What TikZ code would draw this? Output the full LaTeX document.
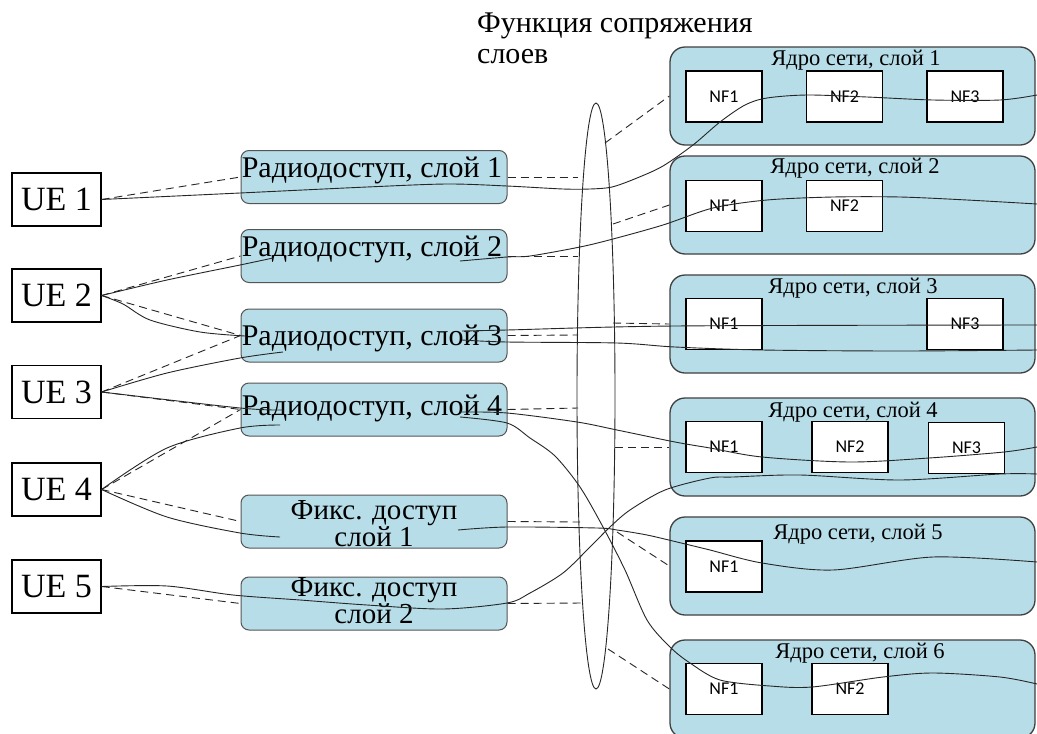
\documentclass[tikz,border=0pt]{standalone}
\usepackage{fontspec}
\setmainfont{Liberation Serif}
\newfontfamily\nffont{Carlito}
\usetikzlibrary{shapes.geometric}
\definecolor{slicefill}{RGB}{183,221,232}
\definecolor{edgegray}{RGB}{85,85,85}

\begin{document}
\begin{tikzpicture}[x=1pt,y=-1pt,
  uebox/.style={draw=black, line width=1.2pt, fill=white, minimum width=89pt,
    minimum height=53pt, inner sep=0pt, font=\fontsize{34}{36}\selectfont},
  accbox/.style={draw=edgegray, line width=1pt, fill=slicefill, rounded corners=8pt,
    minimum width=266pt, minimum height=53pt, inner sep=0pt},
  corebox/.style={draw=black!75, line width=1.3pt, fill=slicefill, rounded corners=15pt,
    minimum width=365pt, minimum height=98pt, inner sep=0pt},
  nfbox/.style={draw=black, line width=1.1pt, fill=white, minimum width=76pt,
    minimum height=51pt, inner sep=0pt, font=\nffont\fontsize{18}{20}\selectfont},
  acclabel/.style={anchor=base, inner sep=0pt, font=\fontsize{30}{30}\selectfont},
  fixlabel/.style={anchor=north, inner sep=0pt, align=center,
    font=\fontsize{29}{24}\selectfont},
  corelabel/.style={anchor=base, inner sep=0pt, font=\fontsize{22.5}{24}\selectfont},
  titlelabel/.style={anchor=base west, inner sep=0pt, font=\fontsize{30}{32}\selectfont},
  link/.style={line width=0.9pt, draw=black!85},
  dlink/.style={link, dash pattern=on 8pt off 5pt},
]
\clip (0,0) rectangle (1037,734);
\fill[white] (0,0) rectangle (1037,734);

% title of the interworking function
\node[titlelabel] (title1) at (477,32) {Функция сопряжения};
\node[titlelabel] (title2) at (477,63) {слоев};

% core network slices
\node[corebox] (c1) at (852.5,96) {};
\node[corebox] (c2) at (852.5,205) {};
\node[corebox] (c3) at (852.5,324) {};
\node[corebox] (c4) at (852.5,447) {};
\node[corebox] (c5) at (852.5,566) {};
\node[corebox] (c6) at (852.5,689) {};
\node[corelabel] (c1t) at (856,65) {Ядро сети, слой 1};
\node[corelabel] (c2t) at (855,173) {Ядро сети, слой 2};
\node[corelabel] (c3t) at (853,293) {Ядро сети, слой 3};
\node[corelabel] (c4t) at (853,417) {Ядро сети, слой 4};
\node[corelabel] (c5t) at (858,539) {Ядро сети, слой 5};
\node[corelabel] (c6t) at (860,658) {Ядро сети, слой 6};

% network functions
\node[nfbox] (c1nf1) at (724,96.5) {NF1};
\node[nfbox] (c1nf2) at (844.5,96.5) {NF2};
\node[nfbox] (c1nf3) at (965,96.5) {NF3};
\node[nfbox] (c2nf1) at (724,206) {NF1};
\node[nfbox] (c2nf2) at (844.5,206) {NF2};
\node[nfbox] (c3nf1) at (724,324) {NF1};
\node[nfbox] (c3nf3) at (965,324) {NF3};
\node[nfbox] (c4nf1) at (724,447) {NF1};
\node[nfbox] (c4nf2) at (850,447) {NF2};
\node[nfbox] (c4nf3) at (966.5,448) {NF3};
\node[nfbox] (c5nf1) at (724,566.5) {NF1};
\node[nfbox] (c6nf1) at (724,689) {NF1};
\node[nfbox] (c6nf2) at (850,689) {NF2};

% access slices
\node[accbox] (r1) at (374,177) {};
\node[accbox] (r2) at (374,256) {};
\node[accbox] (r3) at (374,335.5) {};
\node[accbox] (r4) at (374,409.5) {};
\node[accbox] (f1) at (374,521.5) {};
\node[accbox] (f2) at (374,603.5) {};
\node[acclabel] (r1t) at (372,177) {Радиодоступ, слой 1};
\node[acclabel] (r2t) at (372,256) {Радиодоступ, слой 2};
\node[acclabel] (r3t) at (372,345) {Радиодоступ, слой 3};
\node[acclabel] (r4t) at (372,415) {Радиодоступ, слой 4};
\node[fixlabel] (f1t) at (374,500) {Фикс. доступ\\слой 1};
\node[fixlabel] (f2t) at (374,577) {Фикс. доступ\\слой 2};

% user equipment
\node[uebox] (ue1) at (56.5,199.5) {UE 1};
\node[uebox] (ue2) at (56.5,295.5) {UE 2};
\node[uebox] (ue3) at (56.5,392) {UE 3};
\node[uebox] (ue4) at (56.5,489.5) {UE 4};
\node[uebox] (ue5) at (56.5,586.5) {UE 5};

% slice interworking function
\node[draw=black!85, line width=0.9pt, ellipse, minimum width=38pt, minimum height=586pt,
  inner sep=0pt] (iwf) at (596,396) {};

% end points of the connectors
\coordinate (r2in) at (273,258);   \coordinate (r2out) at (460,261);
\coordinate (r3a) at (245,336);    \coordinate (r3b) at (283,352);
\coordinate (r3c) at (462,331);    \coordinate (r3d) at (462,340);
\coordinate (r4a) at (283,410);    \coordinate (r4b) at (280,425);
\coordinate (r4c) at (460,412);    \coordinate (r4d) at (460,417);
\coordinate (f1a) at (280,537);    \coordinate (f1b) at (458,530);
\coordinate (c1out) at (1037,95);  \coordinate (c2out) at (1037,204);
\coordinate (c3outa) at (1037,325); \coordinate (c3outb) at (1037,350);
\coordinate (c4outa) at (1037,447); \coordinate (c4outb) at (1037,474);
\coordinate (c5out) at (1037,562); \coordinate (c6out) at (1037,684);
\coordinate (e1l) at (578,177); \coordinate (e2l) at (578,256);
\coordinate (e3l) at (578,335); \coordinate (e4l) at (578,408);
\coordinate (e5l) at (580,522); \coordinate (e6l) at (583,603);
\coordinate (e1r) at (605,143); \coordinate (e2r) at (613,224);
\coordinate (e3r) at (613,323); \coordinate (e4r) at (615,447);
\coordinate (e5r) at (617,532); \coordinate (e6r) at (608,649);

% signalling (dashed)
\draw[dlink] (ue1.east) -- (r1.west);
\draw[dlink] (ue2.east) -- (r2.west);
\draw[dlink] (ue2.east) -- (r3.west);
\draw[dlink] (ue3.east) -- (r3.west);
\draw[dlink] (ue3.east) -- (r4.west);
\draw[dlink] (ue4.east) -- (r4.west);
\draw[dlink] (ue4.east) -- (f1.west);
\draw[dlink] (ue5.east) -- (f2.west);
\draw[dlink] (r1.east) -- (e1l);
\draw[dlink] (r2.east) -- (e2l);
\draw[dlink] (r3.east) -- (e3l);
\draw[dlink] (r4.east) -- (e4l);
\draw[dlink] (f1.east) -- (e5l);
\draw[dlink] (f2.east) -- (e6l);
\draw[dlink] (e1r) -- (c1.west);
\draw[dlink] (e2r) -- (c2.west);
\draw[dlink] (e3r) -- (c3.west);
\draw[dlink] (e4r) -- (c4.west);
\draw[dlink] (e5r) -- (c5.west);
\draw[dlink] (e6r) -- (c6.west);

% user plane paths (solid)
\draw[link] plot[smooth, tension=0.5] coordinates {(ue1.east) (240,193) (367,187)
  (447,184) (507,186) (563,189) (590,189) (612,187) (637,178) (663,166) (693,145)
  (720,122) (745,105) (767,98) (807,95) (867,97) (933,100) (1000,100) (c1out)};
\draw[link] plot[smooth, tension=0.5] coordinates {(ue2.east) (167,280) (240,265) (r2in)};
\draw[link] plot[smooth, tension=0.5] coordinates {(r2out) (507,257) (530,256) (580,247)
  (613,239) (663,225) (713,208) (767,200) (833,197) (900,197) (967,200) (c2out)};
\draw[link] plot[smooth, tension=0.5] coordinates {(ue2.east) (123,304) (150,320)
  (200,332) (r3a)};
\draw[link] plot[smooth, tension=0.5] coordinates {(ue3.east) (167,373) (240,358) (r3b)};
\draw[link] plot[smooth, tension=0.5] coordinates {(r3c) (507,330) (675,326) (c3outa)};
\draw[link] plot[smooth, tension=0.5] coordinates {(r3d) (507,342) (617,343) (675,347)
  (762,350) (900,351) (c3outb)};
\draw[link] plot[smooth, tension=0.5] coordinates {(ue3.east) (240,408) (r4a)};
\draw[link] plot[smooth, tension=0.5] coordinates {(ue4.east) (167,448) (240,428) (r4b)};
\draw[link] plot[smooth, tension=0.5] coordinates {(r4c) (507,413) (577,422) (617,430)
  (675,442) (710,448) (762,457) (850,462) (929,458) (1004,452) (c4outa)};
\draw[link] plot[smooth, tension=0.5] coordinates {(r4d) (507,423) (530,438) (555,456)
  (580,487) (603,527) (625,570) (647,620) (670,647) (690,663) (720,680) (770,686)
  (812,687) (883,677) (933,673) (1000,677) (c6out)};
\draw[link] plot[smooth, tension=0.5] coordinates {(ue4.east) (167,517) (240,533) (f1a)};
\draw[link] plot[smooth, tension=0.5] coordinates {(f1b) (507,527) (597,528) (617,530)
  (647,535) (677,542) (710,550) (762,563) (833,570) (933,557) (c5out)};
\draw[link] plot[smooth, tension=0.5] coordinates {(ue5.east) (167,586) (233,595)
  (300,600) (367,605) (443,609) (507,603) (530,593) (563,573) (590,547) (610,527)
  (630,510) (665,490) (710,478) (733,477) (800,475) (900,480) (1000,474) (c4outb)};
\end{tikzpicture}
\end{document}
